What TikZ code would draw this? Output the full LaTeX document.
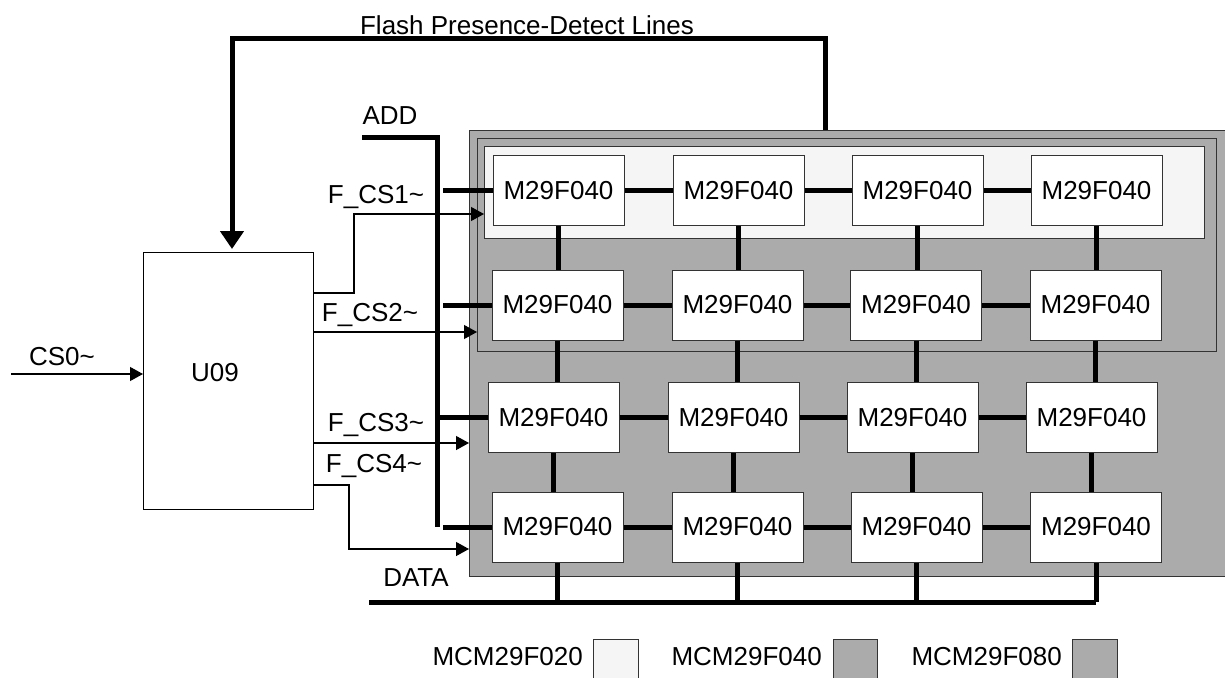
\documentclass[tikz,border=0pt]{standalone}
\usepackage{fontspec}
\setmainfont{Liberation Sans}
\usetikzlibrary{arrows.meta,calc}
\definecolor{modgray}{HTML}{ABABAB}
\definecolor{lightfill}{HTML}{F5F5F5}
\definecolor{edgegray}{HTML}{333333}
\begin{document}
\begin{tikzpicture}[x=1pt,y=-1pt,
  every node/.style={font=\fontsize{26}{30}\selectfont},
  chip/.style={draw=edgegray,fill=white,line width=1pt,minimum width=131pt,minimum height=70pt,inner sep=0pt},
  modbox/.style={draw=edgegray,line width=1.2pt,inner sep=0pt,anchor=north west},
  bus/.style={line width=5pt,line join=miter},
  sig/.style={line width=1.2pt,-{Triangle[width=14pt,length=13pt]}},
  txt/.style={inner sep=0pt}]
\clip (0,0) rectangle (1225,677);
\fill[white] (0,0) rectangle (1225,677);

% module outlines
\node[modbox,fill=modgray,minimum width=765pt,minimum height=446pt] (m080) at (469,130) {};
\node[modbox,minimum width=739pt,minimum height=213pt] (m040) at (477,138) {};
\node[modbox,fill=lightfill,minimum width=720pt,minimum height=92pt] (m020) at (484,146) {};

% chips
\node[chip] (c11) at (558.5,190.5) {M29F040};
\node[chip] (c12) at (738.5,190.5) {M29F040};
\node[chip] (c13) at (917.5,190.5) {M29F040};
\node[chip] (c14) at (1096.5,190.5) {M29F040};
\node[chip] (c21) at (557.5,305) {M29F040};
\node[chip] (c22) at (737.5,305) {M29F040};
\node[chip] (c23) at (916,305) {M29F040};
\node[chip] (c24) at (1095.5,305) {M29F040};
\node[chip] (c31) at (553.5,417.5) {M29F040};
\node[chip] (c32) at (733.5,417.5) {M29F040};
\node[chip] (c33) at (912.5,417.5) {M29F040};
\node[chip] (c34) at (1091.5,417.5) {M29F040};
\node[chip] (c41) at (557.5,527) {M29F040};
\node[chip] (c42) at (737.5,527) {M29F040};
\node[chip] (c43) at (916.5,527) {M29F040};
\node[chip] (c44) at (1096,527) {M29F040};

% horizontal chip links
\foreach \r in {1,2,3,4}{
  \draw[bus] (c\r1.east) -- (c\r2.west);
  \draw[bus] (c\r2.east) -- (c\r3.west);
  \draw[bus] (c\r3.east) -- (c\r4.west);
}
% vertical chip links
\foreach \c in {1,2,3,4}{
  \draw[bus] (c1\c.south) -- (c1\c.south |- c2\c.north);
  \draw[bus] (c2\c.south) -- (c2\c.south |- c3\c.north);
  \draw[bus] (c3\c.south) -- (c3\c.south |- c4\c.north);
}

% U09
\node[draw=black,line width=1.2pt,minimum width=170pt,minimum height=257pt,inner sep=0pt,anchor=north west] (u09) at (143,252) {};
\node[txt] (u09label) at (215,373) {U09};

% CS0 input
\coordinate (cs0start) at (11,374);
\draw[sig] (cs0start) -- (cs0start -| u09.west);
\node[txt] (cs0label) at (62,357) {CS0\textasciitilde};

% ADD bus
\coordinate (addstart) at (362,137);
\coordinate (addcorner) at (437,137);
\coordinate (addend) at (437,527);
\draw[bus] (addstart) -- (addcorner) -- (addend);
\node[txt] (addlabel) at (390,116) {ADD};
\coordinate (stubx) at (443,0);
\draw[bus] (c11.west -| stubx) -- (c11.west);
\draw[bus] (c21.west -| stubx) -- (c21.west);
\draw[bus] (c31.west -| addcorner) -- (c31.west);
\draw[bus] (c41.west -| stubx) -- (c41.west);

% DATA bus
\coordinate (datastart) at (369,602);
\draw[bus] (datastart) -- (datastart -| c44.south);
\foreach \c in {1,2,3,4}{
  \draw[bus] (c4\c.south) -- (c4\c.south |- datastart);
}
\node[txt] (datalabel) at (416,578) {DATA};

% presence-detect lines
\coordinate (pdA) at (825,130);
\coordinate (pdB) at (825,39);
\coordinate (pdC) at (232,39);
\coordinate (pdD) at (232,249);
\draw[bus,-{Triangle[width=23pt,length=18pt]}] (pdA) -- (pdB) -- (pdC) -- (pdD);
\node[txt] (pdlabel) at (527,25) {Flash Presence-Detect Lines};

% chip selects
\coordinate (f1a) at (313,293);
\coordinate (f1b) at (354,293);
\coordinate (f1c) at (354,214);
\draw[sig] (f1a) -- (f1b) -- (f1c) -- (f1c -| m020.west);
\node[txt] (f1label) at (376,197) {F\_CS1\textasciitilde};

\coordinate (f2a) at (313,332);
\draw[sig] (f2a) -- (f2a -| m040.west);
\node[txt] (f2label) at (370,315) {F\_CS2\textasciitilde};

\coordinate (f3a) at (313,443);
\draw[sig] (f3a) -- (f3a -| m080.west);
\node[txt] (f3label) at (376,425) {F\_CS3\textasciitilde};

\coordinate (f4a) at (313,485);
\coordinate (f4b) at (349,485);
\coordinate (f4c) at (349,549);
\draw[sig] (f4a) -- (f4b) -- (f4c) -- (f4c -| m080.west);
\node[txt] (f4label) at (374,466) {F\_CS4\textasciitilde};

% legend
\node[txt,anchor=east] (lg1) at (583,657) {MCM29F020};
\node[draw=edgegray,line width=1pt,fill=lightfill,minimum width=45pt,minimum height=55pt,inner sep=0pt,anchor=north west] (lb1) at (593,639) {};
\node[txt,anchor=east] (lg2) at (822,657) {MCM29F040};
\node[draw=edgegray,line width=1pt,fill=modgray,minimum width=44pt,minimum height=55pt,inner sep=0pt,anchor=north west] (lb2) at (833,639) {};
\node[txt,anchor=east] (lg3) at (1062,657) {MCM29F080};
\node[draw=edgegray,line width=1pt,fill=modgray,minimum width=45pt,minimum height=55pt,inner sep=0pt,anchor=north west] (lb3) at (1072,639) {};
\end{tikzpicture}
\end{document}
